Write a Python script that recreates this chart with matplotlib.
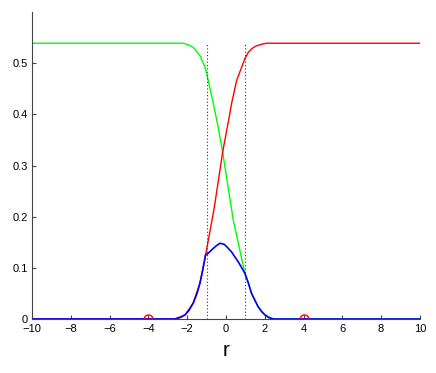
import matplotlib
matplotlib.use("Agg")
import matplotlib.pyplot as plt

plt.rcParams['font.family'] = ['Liberation Sans', 'DejaVu Sans']

# Blue curve (r, value)
blue_r = [-10, -2.63, -2.35, -2.11, -1.9, -1.69, -1.5, -1.34, -1.2, -1.05, -0.9, -0.74, -0.5, -0.31,
          -0.09, 0.1, 0.29, 0.45, 0.63, 0.8, 0.98, 1.15, 1.32, 1.5, 1.66, 1.85, 2.01, 2.2, 2.44, 10]
blue_v = [0, 0, 0.003, 0.008, 0.017, 0.031, 0.049, 0.070, 0.095, 0.125, 0.129, 0.135, 0.143, 0.148,
          0.146, 0.139, 0.131, 0.122, 0.112, 0.101, 0.089, 0.071, 0.050, 0.036, 0.024, 0.014, 0.008, 0.003, 0, 0]

# Red curve (hidden under blue left of r=-1)
red_r = [-10, -2.63, -2.11, -1.69, -1.34, -1.05, -0.82, -0.6, -0.17, 0.17, 0.29, 0.55, 0.81, 0.98,
         1.15, 1.35, 1.58, 1.85, 2.1, 10]
red_v = [0, 0, 0.008, 0.031, 0.070, 0.125, 0.172, 0.218, 0.326, 0.395, 0.421, 0.466, 0.492, 0.509,
         0.521, 0.529, 0.534, 0.537, 0.539, 0.539]

# Green curve (hidden under blue right of r=1)
green_r = [-10, -2.25, -2.0, -1.69, -1.34, -1.08, -0.91, -0.65, -0.40, -0.17, 0.38, 0.98,
           1.15, 1.32, 1.66, 2.01, 2.44, 10]
green_v = [0.539, 0.539, 0.537, 0.531, 0.515, 0.492, 0.466, 0.421, 0.375, 0.326, 0.193, 0.089,
           0.071, 0.050, 0.024, 0.008, 0, 0]

bounds = [-1, 1]
circle_r = [-4, 4]

fig = plt.figure(figsize=(4.36, 3.73), dpi=100)
ax = fig.add_axes([0.0734, 0.1448, 0.8896, 0.823])

ax.plot(green_r, green_v, color='#00ff00', lw=1)
ax.plot(red_r, red_v, color='#ff0000', lw=1)
for b in bounds:
    ax.plot([b, b], [0, 0.54], color='#333333', lw=0.8, ls=(0, (1, 2)))
ax.plot(blue_r, blue_v, color='#0000ff', lw=1.2)
ax.plot(circle_r, [0, 0], 'o', mfc='none', mec='red', ms=6.5, mew=1)

ax.set_xlim(-10, 10)
ax.set_ylim(0, 0.6)
ax.set_xticks(range(-10, 11, 2))
ax.set_yticks([0, 0.1, 0.2, 0.3, 0.4, 0.5])
ax.set_yticklabels(['0', '0.1', '0.2', '0.3', '0.4', '0.5'])
ax.spines['top'].set_visible(False)
ax.spines['right'].set_visible(False)
for s in ['left', 'bottom']:
    ax.spines[s].set_color('#444444')
    ax.spines[s].set_linewidth(0.8)
ax.tick_params(direction='in', length=3, labelsize=8, color='#444444')
ax.tick_params(axis='x', pad=3.5)
ax.tick_params(axis='y', pad=3)
ax.set_xlabel('r', fontsize=15, labelpad=5)

fig.savefig('out.png', dpi=100)
